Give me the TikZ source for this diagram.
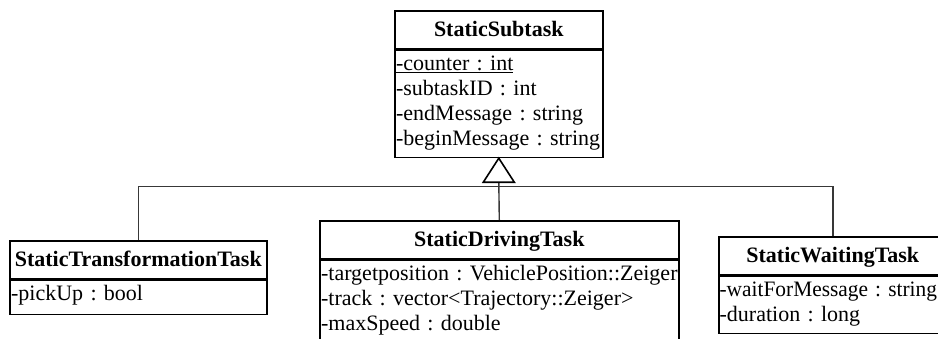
\documentclass[tikz,border=0pt]{standalone}
\usepackage{fontspec}
\usepackage{graphicx}
\setmainfont{Liberation Serif}
\usetikzlibrary{calc}

% one attribute line, kept on a single line even when it fills the box
\newcommand\attrline[1]{\mbox{#1}}
% the same, set a little narrower so it ends inside its box
\newcommand\tightattrline[1]{\scalebox{0.972}[1]{#1}}

\begin{document}
\frenchspacing
\begin{tikzpicture}[x=1pt,y=-1pt,
  umlfont/.style={font=\fontsize{22}{25}\selectfont},
  ctitle/.style={draw, line width=1.6pt, umlfont, font=\fontsize{22}{25}\selectfont\bfseries,
    minimum height=38pt, inner sep=0pt, text height=15pt, text depth=1pt,
    anchor=north west},
  cattr/.style={draw, line width=1.6pt, umlfont, align=left,
    inner xsep=1.3pt, inner ysep=2pt, text height=18pt, anchor=north west},
  inherit/.style={draw=black!78, line width=1.4pt},
  gentip/.style={draw=black, line width=1.6pt, fill=white, line join=miter}]

\useasboundingbox (0,0) rectangle (938,338);
\clip (0,0) rectangle (938,338);

% base class
\node[ctitle, minimum width=208pt] (sub) at (394,10) {StaticSubtask};
\node[cattr, text width=205.4pt, text depth=85pt] (subA) at (sub.south west)
  {\attrline{\underline{-counter : int}}\\
   \attrline{-subtaskID : int}\\
   \attrline{-endMessage : string}\\
   \attrline{-beginMessage : string}};

% derived classes
\node[ctitle, minimum width=257pt] (tra) at (9,240) {StaticTransformationTask};
\node[cattr, text width=254.4pt, text depth=12pt] (traA) at (tra.south west)
  {\attrline{-pickUp : bool}};

\node[ctitle, minimum width=359pt] (drv) at (319,220) {StaticDrivingTask};
\node[cattr, text width=356.4pt, text depth=75pt] (drvA) at (drv.south west)
  {\attrline{-targetposition : VehiclePosition::Zeiger}\\
   \attrline{-track : vector<Trajectory::Zeiger>}\\
   \attrline{-maxSpeed : double}};

\node[ctitle, minimum width=228pt] (wai) at (718,236) {StaticWaitingTask};
\node[cattr, inner xsep=0.8pt, text width=226.4pt, text depth=35pt] (waiA) at (wai.south west)
  {\tightattrline{-waitForMessage : string}\\
   \attrline{-duration : long}};

% generalization: shared tree of lines ending in a hollow triangle
\coordinate (tribase) at ($(subA.south)+(0,24)$);
\coordinate (junc) at ($(subA.south)+(0,28)$);
\draw[inherit] (tribase) -- (drv.north);
\draw[inherit] (tra.north) |- (junc) -| (wai.north);
\draw[gentip] (subA.south) -- ($(tribase)+(-15.5,0)$) -- ($(tribase)+(15.5,0)$) -- cycle;

\end{tikzpicture}
\end{document}
